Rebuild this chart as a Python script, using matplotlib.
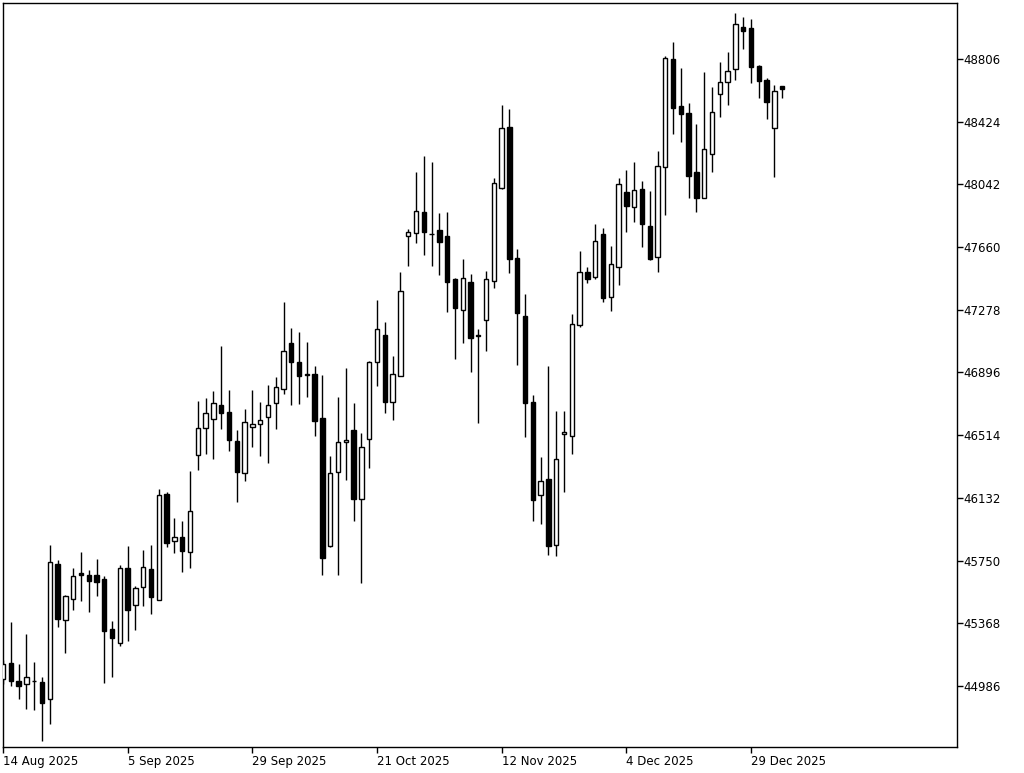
import matplotlib
matplotlib.use("Agg")
import matplotlib.pyplot as plt
import numpy as np
import pandas as pd

# ---- data ----
opens = [45028, 45128, 45018, 44999, 45018, 45008, 44905, 45727, 45390, 45516,
         45674, 45662, 45662, 45640, 45331, 45248, 45703, 45479, 45587, 45697,
         45510, 46155, 45871, 45893, 45800, 46395, 46556, 46611, 46698, 46653,
         46478, 46282, 46562, 46580, 46627, 46708, 46797, 47077, 46958, 46884,
         46885, 46617, 45841, 46288, 46472, 46545, 46123, 46491, 46962, 47124,
         46718, 46876, 47726, 47744, 47872, 47740, 47764, 47728, 47464, 47275,
         47449, 47124, 47216, 47455, 48022, 48393, 47595, 47240, 46718, 46149,
         46247, 45845, 46519, 46509, 47185, 47506, 47480, 47738, 47358, 47541,
         47997, 47902, 48014, 47788, 47598, 48146, 48804, 48520, 48475, 48116,
         47957, 48227, 48591, 48668, 48743, 49001, 48993, 48765, 48678, 48384,
         48642]
highs = [45144, 45377, 45120, 45301, 45132, 45041, 45845, 45753, 45538, 45703,
         45804, 45693, 45758, 45658, 45384, 45723, 45839, 45595, 45814, 45845,
         46184, 46170, 46011, 45993, 46296, 46724, 46742, 46783, 47057, 46789,
         46545, 46672, 46789, 46718, 46820, 46867, 47324, 47165, 47141, 47080,
         46935, 46881, 46389, 46748, 46921, 46708, 46525, 46966, 47338, 47205,
         46996, 47510, 47768, 48119, 48215, 48180, 47866, 47872, 47470, 47586,
         47494, 47161, 47514, 48083, 48526, 48500, 47646, 47372, 46759, 46379,
         46937, 46661, 46661, 47252, 47636, 47537, 47799, 47778, 47668, 48083,
         48130, 48180, 48063, 48002, 48247, 48824, 48911, 48749, 48536, 48408,
         48725, 48634, 48786, 48851, 49084, 49064, 49048, 48769, 48692, 48648,
         48642]
lows = [44998, 44988, 44905, 44844, 44838, 44649, 44754, 45343, 45189, 45449,
        45504, 45437, 45536, 45004, 45041, 45228, 45260, 45327, 45473, 45423,
        45510, 45834, 45798, 45682, 45703, 46302, 46399, 46367, 46550, 46419,
        46105, 46235, 46444, 46389, 46343, 46550, 46765, 46698, 46702, 46748,
        46509, 45662, 45834, 45662, 46241, 45991, 45612, 46316, 46816, 46647,
        46606, 46876, 47547, 47683, 47612, 47547, 47490, 47263, 46976, 47074,
        46897, 46586, 47029, 47409, 48014, 47504, 46942, 46505, 45991, 45973,
        45784, 45780, 46170, 46399, 47171, 47439, 47464, 47324, 47271, 47429,
        47754, 47815, 47659, 47581, 47506, 47855, 48349, 48302, 47961, 47876,
        47957, 48119, 48454, 48526, 48678, 48865, 48658, 48567, 48440, 48089,
        48567]
closes = [45120, 45018, 44988, 45041, 45014, 44880, 45739, 45394, 45532, 45654,
          45664, 45627, 45621, 45321, 45280, 45706, 45449, 45585, 45709, 45530,
          46149, 45855, 45892, 45806, 46052, 46556, 46647, 46712, 46647, 46485,
          46288, 46592, 46584, 46605, 46700, 46806, 47027, 46960, 46876, 46878,
          46602, 45764, 46285, 46474, 46486, 46125, 46440, 46958, 47160, 46718,
          46885, 47394, 47754, 47882, 47754, 47738, 47693, 47449, 47291, 47474,
          47104, 47120, 47466, 48049, 48387, 47586, 47257, 46712, 46119, 46235,
          45841, 46367, 46531, 47191, 47506, 47464, 47697, 47348, 47555, 48043,
          47910, 48008, 47801, 47587, 48156, 48814, 48506, 48469, 48093, 47957,
          48258, 48481, 48668, 48733, 49017, 48977, 48759, 48674, 48546, 48611,
          48623]
price_ticks = [44986, 45368, 45750, 46132, 46514, 46896, 47278, 47660, 48042, 48424, 48806]
holidays = ["2025-12-25", "2026-01-01"]

# trading dates
alld = pd.bdate_range("2025-08-14", periods=130)
dates = [d for d in alld if d.strftime("%Y-%m-%d") not in holidays][:len(opens)]
date_label_idx = list(range(0, len(opens), 16))
date_labels = [f"{dates[i].day} {dates[i].strftime('%b %Y')}" for i in date_label_idx]

o = np.array(opens, float)
h = np.array(highs, float)
l = np.array(lows, float)
c = np.array(closes, float)
x = np.arange(len(o))

W, H = 1024, 773
fig = plt.figure(figsize=(W / 100, H / 100), dpi=100)
fig.patch.set_facecolor("white")
ax = fig.add_axes([3 / W, 1 - 747 / H, (957 - 3) / W, (747 - 3) / H])
ax.set_facecolor("white")

# wicks
ax.vlines(x, l, h, color="black", linewidth=1.0, zorder=2)
# bodies
up = c >= o
bottoms = np.minimum(o, c)
heights = np.abs(c - o)
ax.bar(x[up], heights[up], bottom=bottoms[up], width=0.56,
       color="white", edgecolor="black", linewidth=1.0, zorder=3)
ax.bar(x[~up], heights[~up], bottom=bottoms[~up], width=0.56,
       color="black", edgecolor="black", linewidth=1.0, zorder=3)

ax.set_xlim(0.13, 0.13 + 954 / 7.8)
ax.set_ylim(44614, 49147)

# right price axis
ax.yaxis.tick_right()
ax.set_yticks(price_ticks)
ax.set_yticklabels([str(v) for v in price_ticks])
ax.tick_params(axis="y", direction="out", length=4, width=1, pad=0.5,
               labelsize=8.5, colors="black")

# date axis
ax.set_xticks(date_label_idx)
ax.set_xticklabels(date_labels, ha="left")
ax.tick_params(axis="x", direction="out", length=4, width=1, pad=2,
               labelsize=8.5, colors="black")

for s in ax.spines.values():
    s.set_color("black")
    s.set_linewidth(1.0)

fig.savefig("out.png", dpi=100, facecolor="white")
